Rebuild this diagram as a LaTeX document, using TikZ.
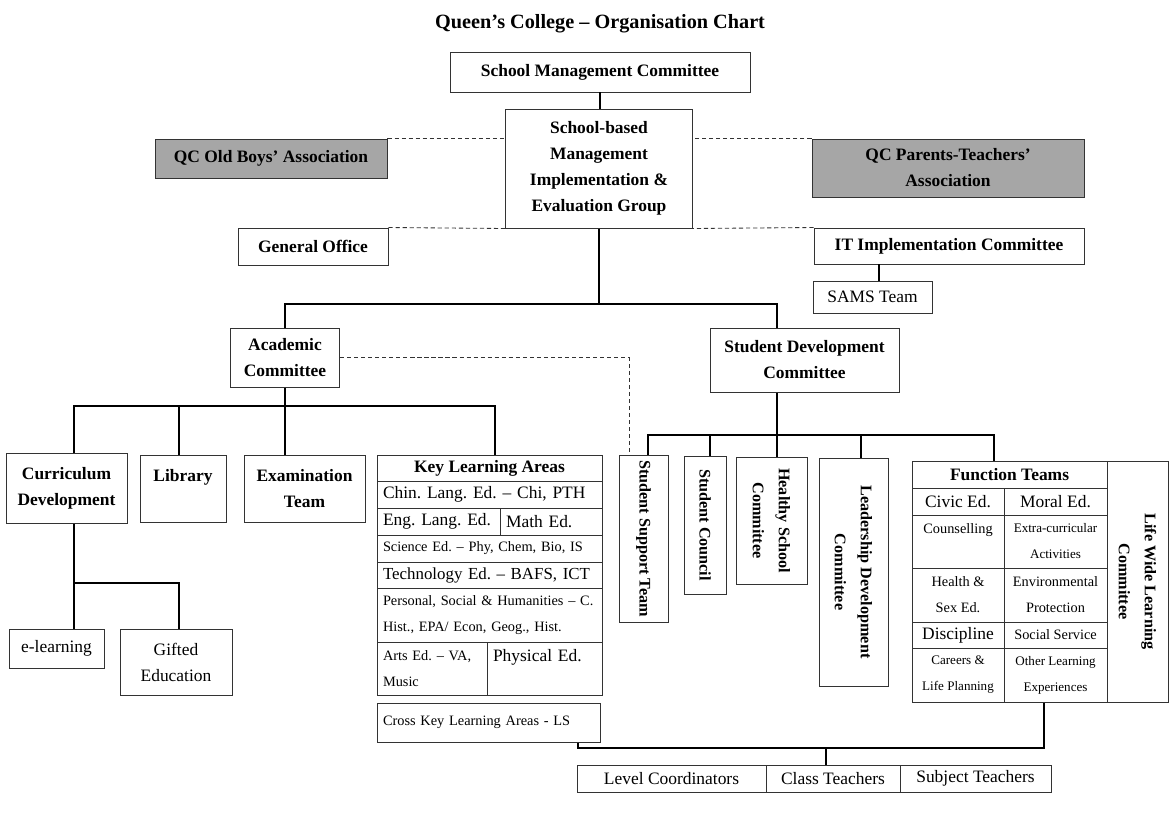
\documentclass[tikz,border=0pt]{standalone}
\usepackage{fontspec}
\setmainfont{Liberation Serif}
\usepackage{tikz}
\usetikzlibrary{calc}
\frenchspacing
\newcommand{\sizeT}{\fontsize{14.4}{18}\selectfont}
\newcommand{\sizeL}{\fontsize{12.4}{18.5}\selectfont}
\newcommand{\sizeM}{\fontsize{12}{18.5}\selectfont}
\newcommand{\sizeS}{\fontsize{10.2}{18.5}\selectfont}
\newcommand{\sizeXS}{\fontsize{9.3}{18.5}\selectfont}
\newcommand{\sizeR}{\fontsize{11.5}{18.5}\selectfont}
\begin{document}
\begin{tikzpicture}[x=0.025cm, y=-0.025cm,
  wh/.style 2 args={minimum width=#1*0.025cm, minimum height=#2*0.025cm},
  box/.style={draw=black!80, line width=0.7pt, inner sep=1pt, align=center, font=\bfseries\sizeL},
  plain/.style={box, font=\sizeL},
  assoc/.style={box, fill=black!35},
  cell/.style={box, font=\sizeL},
  lcell/.style 2 args={box, font=\sizeL, wh={#1}{#2}, inner xsep=6*0.025cm, text width=(#1-12)*0.025cm, align=left},
  turned/.style={box, rotate=-90, font=\bfseries\sizeR},
  link/.style={line width=2.1pt},
  dot/.style={line width=0.6pt, dash pattern=on 3pt off 2pt, black!80}]
  \useasboundingbox (0,0) rectangle (1174,824);
  \node[font=\bfseries\sizeT] (title) at (600,24) {Queen's College -- Organisation Chart};
  % Top boxes
  \node[box, wh={300}{40}] (smc) at (600,72) {School Management Committee};
  \node[box, wh={187}{119}] (sbm) at (599,168.5) {School-based\\Management\\Implementation \&\\Evaluation Group};
  \node[assoc, wh={232}{39}] (oba) at (271,158.5) {QC Old Boys' Association};
  \node[assoc, wh={272}{58}] (pta) at (948,168) {QC Parents-Teachers'\\Association};
  \node[box, wh={150}{37}] (gen) at (313,246.5) {General Office};
  \node[box, wh={270}{36}] (itc) at (949,246) {IT Implementation Committee};
  \node[plain, wh={119}{32}] (sams) at (872.5,297) {SAMS Team};
  \node[box, wh={109}{59}] (aca) at (285,357.5) {Academic\\Committee};
  \node[box, wh={189}{64}] (sdc) at (804.5,360) {Student Development\\Committee};
  % Academic side
  \node[box, wh={121}{70}] (cur) at (66.5,488) {Curriculum\\Development};
  \node[box, wh={86}{67}] (lib) at (183,488.5) {Library\\\mbox{}};
  \node[box, wh={121}{67}] (exa) at (304.5,488.5) {Examination\\Team};
  \node[plain, wh={95}{39}] (elr) at (56.5,648.5) {e-learning};
  \node[plain, wh={112}{66}] (gif) at (176,662) {Gifted\\Education};
  % Key learning areas
  \node[box, wh={225}{26}] (klh) at (489.5,468) {Key Learning Areas};
  \node[lcell={225}{27}] (kl1) at (489.5,494.5) {Chin. Lang. Ed. -- Chi, PTH};
  \node[lcell={123}{27}] (kl2) at (438.5,521.5) {Eng. Lang. Ed.};
  \node[lcell={102}{27}] (kl3) at (551,521.5) {Math Ed.};
  \node[lcell={225}{27}, font=\sizeS] (kl4) at (489.5,548.5) {Science Ed. -- Phy, Chem, Bio, IS};
  \node[lcell={225}{26}, font=\sizeM] (kl5) at (489.5,575) {Technology Ed. -- BAFS, ICT};
  \node[lcell={225}{54}, font=\sizeS] (kl6) at (489.5,615) {Personal, Social \& Humanities -- C.\\Hist., EPA/ Econ, Geog., Hist.};
  \node[lcell={110}{53}, font=\sizeS] (kl7) at (432,668.5) {Arts Ed. -- VA,\\Music};
  \node[lcell={115}{53}] (kl8) at (544.5,668.5) {Physical Ed.\\\mbox{}};
  \node[lcell={223}{39}, font=\sizeS] (cka) at (488.5,722.5) {Cross Key Learning Areas - LS};
  % Student development side
  \node[turned, wh={167}{49}] (sst) at (643.5,538.5) {Student Support Team};
  \node[turned, wh={138}{42}] (stc) at (705,525) {Student Council};
  \node[turned, wh={127}{71}] (hsc) at (771.5,520.5) {Healthy School\\Committee};
  \node[turned, wh={228}{69}] (ldc) at (853.5,572) {Leadership Development\\Committee};
  % Function teams
  \node[box, wh={195}{27}] (fhd) at (1009.5,474.5) {Function Teams};
  \node[cell, wh={92}{27}] (f1a) at (958,501.5) {Civic Ed.};
  \node[cell, wh={103}{27}] (f1b) at (1055.5,501.5) {Moral Ed.};
  \node[cell, wh={92}{53}, font=\sizeS] (f2a) at (958,541.5) {Counselling\\\mbox{}};
  \node[cell, wh={103}{53}, font=\sizeXS] (f2b) at (1055.5,541.5) {Extra-curricular\\Activities};
  \node[cell, wh={92}{54}, font=\sizeS] (f3a) at (958,595) {Health \&\\Sex Ed.};
  \node[cell, wh={103}{54}, font=\sizeS] (f3b) at (1055.5,595) {Environmental\\Protection};
  \node[cell, wh={92}{26}] (f4a) at (958,635) {Discipline};
  \node[cell, wh={103}{26}, font=\sizeS] (f4b) at (1055.5,635) {Social Service};
  \node[cell, wh={92}{54}, font=\sizeXS] (f5a) at (958,675) {Careers \&\\Life Planning};
  \node[cell, wh={103}{54}, font=\sizeXS] (f5b) at (1055.5,675) {Other Learning\\Experiences};
  \node[turned, wh={241}{61}] (lwl) at (1137.5,581.5) {Life Wide Learning\\Committee};
  % Teachers
  \node[plain, wh={189}{27}] (lev) at (671.5,778.5) {Level Coordinators};
  \node[plain, wh={134}{27}] (cls) at (833,778.5) {Class Teachers};
  \node[plain, wh={151}{27}] (sub) at (975.5,778.5) {Subject Teachers};
  % Junctions
  \coordinate (topbar) at (599,304);
  \coordinate (acabar) at (285,406);
  \coordinate (sdcbar) at (777,435);
  \coordinate (curstem) at (74,583);
  \coordinate (samsup) at (879,264);
  \coordinate (botbar) at (826,748);
  % Links
  \draw[link] (smc.south) -- (smc.south |- sbm.north);
  \draw[link] (sbm.south) -- (topbar);
  \draw[link] (aca.north) |- (topbar) -| (sdcbar |- sdc.north);
  \draw[link] (samsup) -- (samsup |- sams.north);
  \draw[link] (aca.south) -- (aca.south |- exa.north);
  \draw[link] (curstem |- cur.north) |- (acabar);
  \draw[link] ($(lib.north)+(-4,0)$) |- (acabar);
  \draw[link] ($(klh.north)+(5.5,0)$) |- (acabar);
  \draw[link] (curstem |- cur.south) -- (curstem |- elr.north);
  \draw[link] (curstem) -| ($(gif.north)+(3,0)$);
  \draw[link] (sdcbar |- sdc.south) -- (sdcbar);
  \draw[link] ($(sst.west)+(4.5,0)$) |- (sdcbar);
  \draw[link] ($(stc.west)+(5,0)$) |- (sdcbar);
  \draw[link] (sdcbar) -- (sdcbar |- hsc.west);
  \draw[link] ($(ldc.west)+(7.5,0)$) |- (sdcbar);
  \draw[link] ($(fhd.north)+(-15.5,0)$) |- (sdcbar);
  \draw[link] ($(cka.south)+(89.5,0)$) |- (botbar);
  \draw[link] ($(f5b.south)+(-11.5,0)$) |- (botbar);
  \draw[link] (botbar) -- (botbar |- cls.north);
  % Dashed links
  \draw[dot] (oba.north east) -- (oba.north east -| sbm.west);
  \draw[dot] (pta.north west) -- (pta.north west -| sbm.east);
  \draw[dot] (gen.north east) -- (sbm.south west);
  \draw[dot] (itc.north west) -- (sbm.south east);
  \draw[dot] (aca.east) -| ($(sst.west)+(-14.5,0)$);
\end{tikzpicture}
\end{document}
